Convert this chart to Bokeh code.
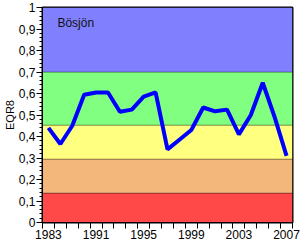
from bokeh.plotting import figure
from bokeh.models import FixedTicker, CustomJSTickFormatter, BoxAnnotation, Label, Range1d
from bokeh.embed import file_html
from bokeh.resources import INLINE

# Data
years = ["1983", "1985", "1987", "1989", "1991", "1992", "1993", "1994", "1995", "1996",
         "1997", "1998", "1999", "2000", "2001", "2002", "2003", "2004", "2005", "2006", "2007"]
eqr8 = [0.44, 0.365, 0.45, 0.594, 0.605, 0.605, 0.515, 0.525, 0.585, 0.605,
        0.34, 0.385, 0.43, 0.535, 0.517, 0.525, 0.41, 0.50, 0.65, 0.49, 0.31]
class_edges = [0.0, 0.137, 0.295, 0.453, 0.7, 1.0]
class_colors = ["#FF4848", "#F4B77B", "#FFFF80", "#80FF80", "#8080FF"]
lake_name = "Bösjön"
y_title = "EQR8"

FONT = "Liberation Sans"
n = len(years)
idx = list(range(n))

p = figure(width=300, height=243, output_backend="svg", toolbar_location=None,
           x_range=Range1d(-0.5, n - 0.5), y_range=Range1d(0, 1),
           min_border_left=42, min_border_right=8, min_border_top=7, min_border_bottom=21)
p.xgrid.visible = False
p.ygrid.visible = False
p.background_fill_color = "white"
p.border_fill_color = "white"
p.outline_line_color = "black"
p.outline_line_width = 2

for lo, hi, c in zip(class_edges[:-1], class_edges[1:], class_colors):
    p.add_layout(BoxAnnotation(bottom=lo, top=hi, fill_color=c, fill_alpha=1.0,
                               line_color="black", line_width=1, level="underlay"))

p.line(x=idx, y=eqr8, line_color="#0000FF", line_width=4)

p.add_layout(Label(x=0.75, y=0.927, text=lake_name, text_font=FONT, text_font_size="12px",
                   text_baseline="middle", text_color="#111111"))

# Y axis
yt = [round(i * 0.1, 1) for i in range(11)]
ymt = [round(i * 0.02, 2) for i in range(51)]
p.yaxis.ticker = FixedTicker(ticks=yt, minor_ticks=ymt)
p.yaxis.formatter = CustomJSTickFormatter(code="""
if (Math.abs(tick) < 1e-9) return '0';
if (Math.abs(tick - 1) < 1e-9) return '1';
return tick.toFixed(1).replace('.', ',');
""")
p.yaxis.major_tick_out = 6
p.yaxis.major_tick_in = 0
p.yaxis.minor_tick_out = 3
p.yaxis.minor_tick_in = 0
p.yaxis.major_label_standoff = 1
p.yaxis.axis_label = y_title
p.yaxis.axis_label_standoff = 0
p.yaxis.axis_label_text_font = FONT
p.yaxis.axis_label_text_font_size = "11px"
p.yaxis.axis_label_text_font_style = "normal"
p.yaxis.axis_label_text_color = "black"

# X axis
major = [i for i in idx if i % 4 == 0]
p.xaxis.ticker = FixedTicker(ticks=major, minor_ticks=[i - 0.5 for i in range(n + 1)])
p.xaxis.major_label_overrides = {i: years[i] for i in major}
p.xaxis.major_tick_out = 6
p.xaxis.major_tick_in = 0
p.xaxis.minor_tick_out = 6
p.xaxis.minor_tick_in = 0
p.xaxis.major_label_standoff = 1

for ax in (p.xaxis, p.yaxis):
    ax.axis_line_color = "black"
    ax.axis_line_width = 1
    ax.minor_tick_line_color = "black"
    ax.major_label_text_font = FONT
    ax.major_label_text_font_size = "12px"
    ax.major_label_text_color = "black"
p.yaxis.major_tick_line_color = "black"
p.xaxis.major_tick_line_color = None

open("out.html", "w").write(file_html(p, INLINE))
